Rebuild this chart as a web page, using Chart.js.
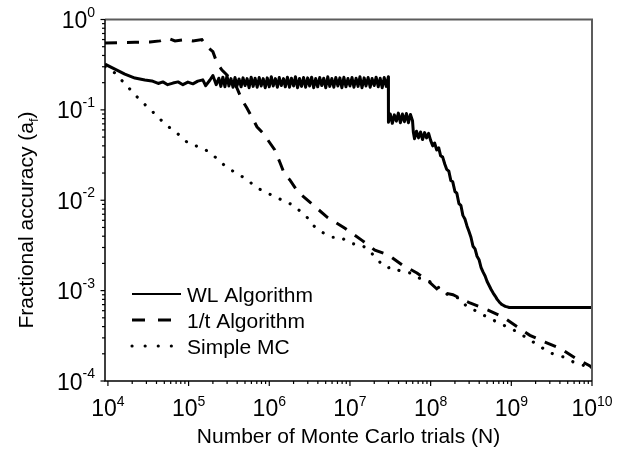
<!DOCTYPE html>
<html>
<head>
<meta charset="utf-8">
<script src="https://cdn.jsdelivr.net/npm/chart.js@4"></script>
<style>
  html, body { margin: 0; padding: 0; background: #fff; }
  #wrap { width: 639px; height: 453px; }
</style>
</head>
<body>
<div id="wrap"><canvas id="c" width="639" height="453"></canvas></div>
<script>
// ---- data ----
var SERIES_NAMES = ["WL Algorithm", "1/t Algorithm", "Simple MC"];

// WL algorithm (solid): smooth start, noisy plateau, step, noisy staircase down
var wlN = [9.2e3, 1.22e4, 1.62e4, 2.16e4, 2.87e4, 3.5e4, 4.2e4, 4.8e4, 5.5e4, 6.4e4,
  7.4e4, 8.5e4, 9.8e4, 1.13e5, 1.3e5, 1.5e5, 1.63e5, 1.84e5, 2.0e5, 2.2e5,
  // plateau
  2.37e5, 2.51e5, 2.66e5, 2.82e5, 2.99e5, 3.16e5, 3.35e5, 3.55e5, 3.76e5, 3.98e5,
  4.22e5, 4.47e5, 4.73e5, 5.01e5, 5.31e5, 5.62e5, 5.96e5, 6.31e5, 6.68e5, 7.08e5,
  7.5e5, 7.94e5, 8.41e5, 8.91e5, 9.44e5,
  1.0e6, 1.06e6, 1.12e6, 1.19e6, 1.26e6, 1.33e6, 1.41e6, 1.5e6, 1.58e6, 1.68e6,
  1.78e6, 1.88e6, 2.0e6, 2.11e6, 2.24e6, 2.37e6, 2.51e6, 2.66e6, 2.82e6, 2.99e6,
  3.16e6, 3.35e6, 3.55e6, 3.76e6, 3.98e6, 4.22e6, 4.47e6, 4.73e6, 5.01e6, 5.31e6,
  5.62e6, 5.96e6, 6.31e6, 6.68e6, 7.08e6, 7.5e6, 7.94e6, 8.41e6, 8.91e6, 9.44e6,
  1.0e7, 1.06e7, 1.12e7, 1.19e7, 1.26e7, 1.33e7, 1.41e7, 1.5e7, 1.58e7, 1.68e7,
  1.78e7, 1.88e7, 2.0e7, 2.11e7, 2.24e7, 2.37e7, 2.51e7, 2.66e7, 2.82e7, 2.99e7,
  // after the first drop
  3.0e7, 3.16e7, 3.35e7, 3.55e7, 3.76e7, 3.98e7, 4.22e7, 4.47e7, 4.73e7, 5.01e7,
  5.31e7, 5.62e7, 5.96e7,
  6.1e7, 6.31e7, 6.68e7, 7.08e7, 7.5e7, 7.94e7, 8.41e7, 8.91e7, 9.44e7,
  // staircase down
  1.0e8, 1.06e8, 1.12e8, 1.19e8, 1.26e8, 1.33e8, 1.41e8, 1.5e8, 1.58e8, 1.68e8,
  1.78e8, 1.88e8, 2.0e8, 2.11e8, 2.24e8, 2.37e8, 2.51e8, 2.66e8, 2.82e8, 2.99e8,
  3.16e8, 3.35e8, 3.55e8, 3.76e8, 3.98e8, 4.22e8, 4.47e8, 4.73e8, 5.01e8, 5.31e8,
  5.62e8, 5.96e8, 6.31e8, 6.68e8, 7.08e8, 7.5e8, 7.94e8, 8.41e8, 8.91e8, 9.44e8,
  1.06e9, 1e10];
var wlA = [0.32, 0.283, 0.249, 0.225, 0.214, 0.209, 0.196, 0.204, 0.19, 0.198,
  0.204, 0.19, 0.203, 0.194, 0.208, 0.215, 0.185, 0.214, 0.24, 0.19,
  0.224, 0.182, 0.23, 0.18, 0.238, 0.184, 0.222, 0.178, 0.228, 0.184,
  0.22, 0.18, 0.226, 0.186, 0.222, 0.176, 0.23, 0.182, 0.224, 0.178,
  0.228, 0.184, 0.222, 0.176, 0.226,
  0.18, 0.232, 0.184, 0.222, 0.178, 0.228, 0.186, 0.222, 0.18, 0.23,
  0.178, 0.224, 0.184, 0.232, 0.176, 0.222, 0.182, 0.228, 0.178, 0.226,
  0.184, 0.23, 0.176, 0.222, 0.18, 0.228, 0.186, 0.224, 0.176, 0.232,
  0.182, 0.222, 0.178, 0.228, 0.184, 0.226, 0.176, 0.23, 0.18, 0.222,
  0.184, 0.228, 0.178, 0.224, 0.182, 0.232, 0.176, 0.226, 0.184, 0.228,
  0.178, 0.222, 0.186, 0.23, 0.18, 0.224, 0.176, 0.228, 0.182, 0.232,
  0.073, 0.09, 0.071, 0.088, 0.075, 0.092, 0.072, 0.09, 0.074, 0.091,
  0.072, 0.089, 0.076,
  0.057, 0.048, 0.058, 0.049, 0.057, 0.047, 0.056, 0.049, 0.055,
  0.046, 0.04, 0.043, 0.036, 0.038, 0.031, 0.03, 0.025, 0.022, 0.021,
  0.0165, 0.016, 0.0125, 0.012, 0.0092, 0.0088, 0.0068, 0.0062, 0.0052, 0.0045,
  0.0039, 0.0031, 0.0029, 0.0024, 0.0022, 0.0018, 0.0016, 0.00145, 0.00126, 0.00114,
  0.00103, 0.00094, 0.00087, 0.0008, 0.00075, 0.00071, 0.00069, 0.00067, 0.00066, 0.00065,
  0.00065, 0.00065];

// 1/t algorithm (dashed)
var tN = [9.2e3, 1.41e4, 2.16e4, 3.32e4, 4.42e4, 5.55e4, 6.78e4, 9.0e4, 1.13e5, 1.46e5,
  1.69e5, 2.0e5, 2.25e5, 2.59e5, 2.99e5, 3.44e5, 3.97e5, 4.58e5, 5.28e5, 6.09e5,
  7.03e5, 8.34e5, 9.6e5, 1.17e6, 1.36e6, 1.56e6, 1.8e6, 2.26e6, 3.47e6, 5.33e6,
  8.66e6, 1.41e7, 2.04e7, 2.96e7, 4.54e7, 6.76e7, 9.0e7, 1.31e8, 1.89e8, 3.07e8,
  5.14e8, 7.89e8, 1.17e9, 1.7e9, 2.61e9, 4.01e9, 6.15e9, 9.44e9, 1e10];
var tA = [0.55, 0.555, 0.56, 0.565, 0.58, 0.62, 0.58, 0.6, 0.58, 0.6,
  0.5, 0.44, 0.33, 0.276, 0.243, 0.214, 0.175, 0.129, 0.105, 0.083,
  0.065, 0.0555, 0.0464, 0.036, 0.026, 0.019, 0.0168, 0.0124, 0.0089, 0.0064,
  0.0049, 0.0036, 0.0028, 0.0025, 0.0019, 0.00157, 0.00131, 0.00097, 0.0009, 0.00073,
  0.00061, 0.00051, 0.0004, 0.00032, 0.00027, 0.00023, 0.00018, 0.000147, 0.00014];

// Simple MC (dotted)
var mcN = [9.2e3, 1.22e4, 1.77e4, 2.49e4, 3.61e4, 5.09e4, 7.38e4, 1.01e5, 1.51e5, 2.06e5,
  2.74e5, 3.65e5, 4.71e5, 5.75e5, 7.03e5, 8.83e5, 1.05e6, 1.28e6, 1.56e6, 1.96e6,
  2.4e6, 2.93e6, 3.47e6, 4.25e6, 5.19e6, 6.15e6, 7.73e6, 9.18e6, 1.09e7, 1.41e7,
  1.67e7, 2.04e7, 2.42e7, 2.88e7, 3.41e7, 4.17e7, 5.54e7, 8.03e7, 1.13e8, 1.38e8,
  1.74e8, 2.31e8, 2.82e8, 3.75e8, 4.99e8, 6.64e8, 1.05e9, 1.56e9, 2.14e9, 3.01e9,
  4.37e9, 5.81e9, 7.52e9, 9.44e9, 1e10];
var mcA = [0.3, 0.256, 0.179, 0.129, 0.0948, 0.0698, 0.0541, 0.042, 0.0379, 0.0309,
  0.0246, 0.0206, 0.0181, 0.0159, 0.0137, 0.0124, 0.0115, 0.0106, 0.0096, 0.0089,
  0.0076, 0.0065, 0.0053, 0.0046, 0.0041, 0.0039, 0.0039, 0.0035, 0.0033, 0.0032,
  0.0028, 0.0024, 0.002, 0.00178, 0.00183, 0.00165, 0.00157, 0.00131, 0.00122, 0.00097,
  0.00088, 0.00082, 0.00066, 0.00059, 0.00051, 0.00045, 0.00037, 0.0003, 0.00025, 0.000205,
  0.000185, 0.000163, 0.000151, 0.00014, 0.000135];

// axis ranges and tick labels (exponents of ten)
var X_MIN = 9200, X_MAX = 1e10;
var Y_MIN = 1e-4, Y_MAX = 1;
var X_TICK_EXPS = [4, 5, 6, 7, 8, 9, 10];
var Y_TICK_EXPS = [-4, -3, -2, -1, 0];
var X_TITLE = "Number of Monte Carlo trials (N)";
var Y_TITLE = "Fractional accuracy (a";
var Y_TITLE_SUB = "f";

var FONT = '"Liberation Sans", Arial, sans-serif';

function pairs(xs, ys) {
  return xs.map(function (x, i) { return { x: x, y: ys[i] }; });
}

function tick(ctx, x1, y1, x2, y2) {
  ctx.beginPath();
  ctx.moveTo(x1, y1);
  ctx.lineTo(x2, y2);
  ctx.stroke();
}

// frame, ticks, power-of-ten labels, titles and the legend
var decoPlugin = {
  id: "deco",
  beforeDraw: function (chart) {
    var c = chart.ctx;
    c.save();
    c.fillStyle = "#fff";
    c.fillRect(0, 0, chart.width, chart.height);
    c.restore();
  },
  afterDraw: function (chart) {
    var ctx = chart.ctx, a = chart.chartArea;
    var xs = chart.scales.x, ys = chart.scales.y;
    ctx.save();

    // top + right in grey, left + bottom in black
    ctx.strokeStyle = "#5c5c5c";
    ctx.lineWidth = 2;
    ctx.beginPath();
    ctx.moveTo(a.left, a.top);
    ctx.lineTo(a.right, a.top);
    ctx.lineTo(a.right, a.bottom);
    ctx.stroke();
    ctx.strokeStyle = "#000";
    ctx.lineWidth = 1.5;
    ctx.beginPath();
    ctx.moveTo(a.left, a.top);
    ctx.lineTo(a.left, a.bottom);
    ctx.lineTo(a.right, a.bottom);
    ctx.stroke();

    // ticks (outward)
    ctx.lineWidth = 1.2;
    X_TICK_EXPS.forEach(function (e, i) {
      var px = xs.getPixelForValue(Math.pow(10, e));
      tick(ctx, px, a.bottom, px, a.bottom + 5);
      if (i < X_TICK_EXPS.length - 1) {
        for (var m = 2; m < 10; m++) {
          var p = xs.getPixelForValue(m * Math.pow(10, e));
          tick(ctx, p, a.bottom, p, a.bottom + 3);
        }
      }
    });
    Y_TICK_EXPS.forEach(function (e, i) {
      var py = ys.getPixelForValue(Math.pow(10, e));
      tick(ctx, a.left - 4.5, py, a.left, py);
      if (i < Y_TICK_EXPS.length - 1) {
        for (var m = 2; m < 10; m++) {
          var p = ys.getPixelForValue(m * Math.pow(10, e));
          tick(ctx, a.left - 3, p, a.left, p);
        }
      }
    });

    // tick labels: "10" with superscript exponent
    ctx.fillStyle = "#000";
    ctx.textBaseline = "alphabetic";
    var big = "23px " + FONT, small = "14px " + FONT;
    X_TICK_EXPS.forEach(function (e) {
      var px = xs.getPixelForValue(Math.pow(10, e));
      ctx.font = big;
      var w1 = ctx.measureText("10").width;
      ctx.font = small;
      var w2 = ctx.measureText(String(e)).width;
      var x0 = px - (w1 + w2) / 2;
      ctx.font = big;
      ctx.textAlign = "left";
      ctx.fillText("10", x0, 416);
      ctx.font = small;
      ctx.fillText(String(e), x0 + w1, 406);
    });
    Y_TICK_EXPS.forEach(function (e) {
      var py = ys.getPixelForValue(Math.pow(10, e));
      var s = String(e);
      ctx.font = small;
      var w2 = ctx.measureText(s).width;
      ctx.font = big;
      var w1 = ctx.measureText("10").width;
      var xr = 95;
      ctx.textAlign = "left";
      ctx.fillText("10", xr - w2 - w1, py + 8.5);
      ctx.font = small;
      ctx.fillText(s, xr - w2, py - 3);
    });

    // axis titles
    var titleFont = "21px " + FONT;
    ctx.font = titleFont;
    ctx.textAlign = "center";
    ctx.fillText(X_TITLE, (a.left + a.right) / 2, 443);

    ctx.save();
    ctx.translate(33, 220);
    ctx.rotate(-Math.PI / 2);
    ctx.textAlign = "left";
    ctx.font = titleFont;
    var wMain = ctx.measureText(Y_TITLE).width;
    var wClose = ctx.measureText(")").width;
    ctx.font = "13px " + FONT;
    var wSub = ctx.measureText(Y_TITLE_SUB).width;
    var sx = -(wMain + wSub + wClose) / 2;
    ctx.font = titleFont;
    ctx.fillText(Y_TITLE, sx, 0);
    ctx.font = "13px " + FONT;
    ctx.fillText(Y_TITLE_SUB, sx + wMain, 5);
    ctx.font = titleFont;
    ctx.fillText(")", sx + wMain + wSub, 0);
    ctx.restore();

    // legend, styled from the datasets
    var rows = [294, 320, 346];
    chart.data.datasets.forEach(function (ds, i) {
      var y = rows[i];
      ctx.save();
      ctx.strokeStyle = ds.borderColor;
      ctx.lineWidth = i === 0 ? 2.2 : ds.borderWidth;
      ctx.lineCap = ds.borderCapStyle || "butt";
      ctx.setLineDash(i === 2 ? [0.1, 13] : (ds.borderDash && ds.borderDash.length ? [13, 13] : []));
      tick(ctx, 132, y, i === 2 ? 175 : 181, y);
      ctx.restore();
      ctx.font = titleFont;
      ctx.textAlign = "left";
      ctx.fillText(ds.label, 187, y + 8);
    });

    ctx.restore();
  }
};

new Chart(document.getElementById("c"), {
  type: "line",
  data: {
    datasets: [
      {
        label: SERIES_NAMES[0],
        data: pairs(wlN, wlA),
        borderColor: "#000",
        borderWidth: 3,
        borderJoinStyle: "round",
        pointRadius: 0,
        tension: 0
      },
      {
        label: SERIES_NAMES[1],
        data: pairs(tN, tA),
        borderColor: "#000",
        borderWidth: 3,
        borderDash: [12, 10],
        pointRadius: 0,
        tension: 0
      },
      {
        label: SERIES_NAMES[2],
        data: pairs(mcN, mcA),
        borderColor: "#000",
        borderWidth: 3.1,
        borderDash: [0.1, 11],
        borderCapStyle: "round",
        pointRadius: 0,
        tension: 0
      }
    ]
  },
  options: {
    responsive: false,
    animation: false,
    layout: { padding: { left: 105, right: 47, top: 19.5, bottom: 72 } },
    plugins: {
      legend: { display: false },
      tooltip: { enabled: false }
    },
    scales: {
      x: { type: "logarithmic", min: X_MIN, max: X_MAX, display: false },
      y: { type: "logarithmic", min: Y_MIN, max: Y_MAX, display: false }
    }
  },
  plugins: [decoPlugin]
});
</script>
</body>
</html>
